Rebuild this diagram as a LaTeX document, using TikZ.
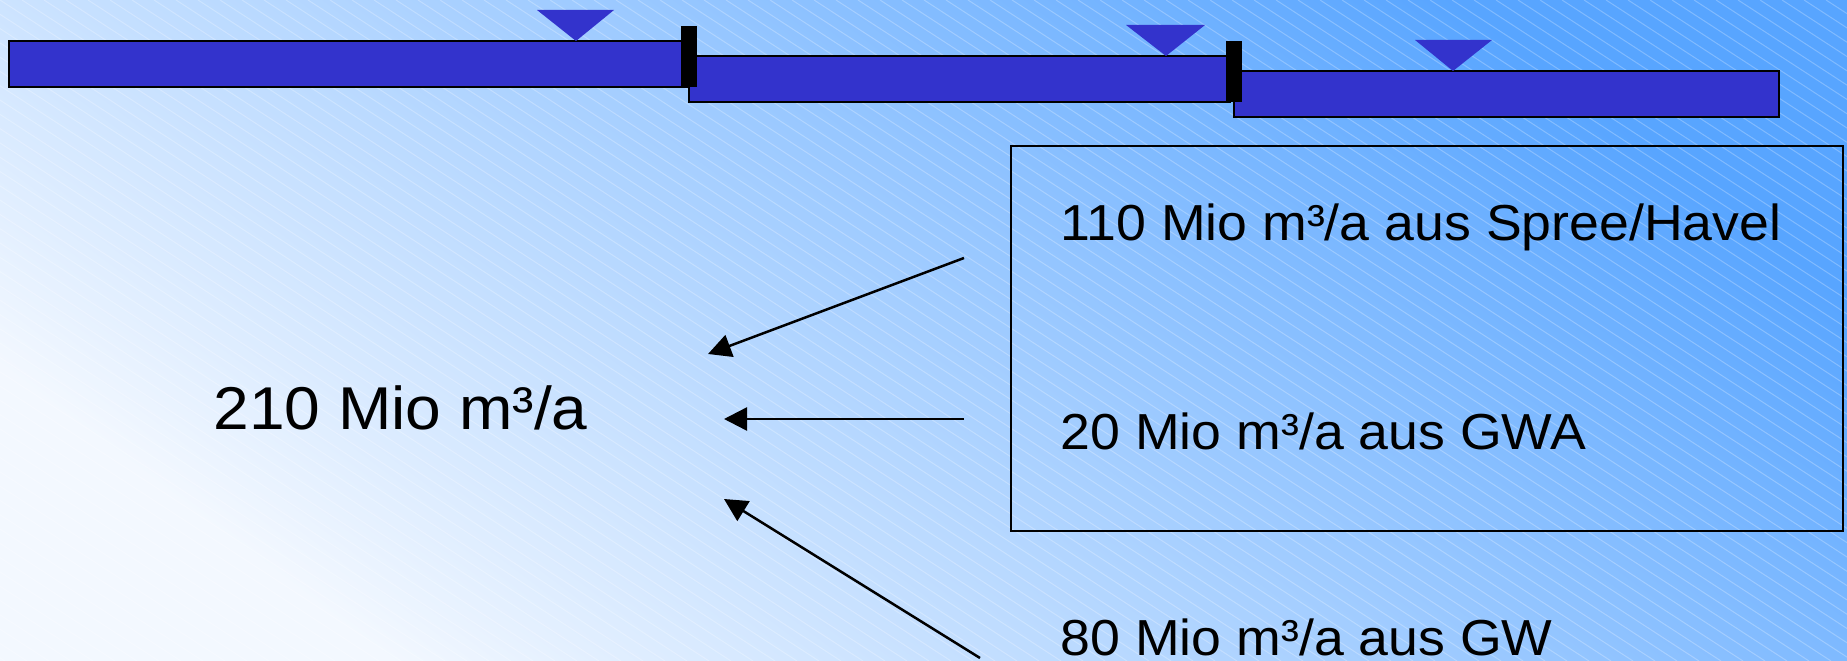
\documentclass[tikz,border=0pt]{standalone}
\usepackage{fontspec}
\setmainfont{Liberation Sans}
\newfontfamily\labelfont[FakeStretch=1.06]{Liberation Sans}
\usetikzlibrary{arrows.meta}
\definecolor{barblue}{RGB}{51,51,204}
\definecolor{bglight}{RGB}{243,248,255}
\definecolor{bgdark}{RGB}{88,165,255}
\tikzset{
	bar/.style = {draw = black, line width = 0.15mm, fill = barblue},
	plug/.style = {fill = black},
	level/.style = {fill = barblue},
	flow/.style = {line width = 0.25mm, -{Triangle[length = 2.3mm, width = 2.3mm]}},
	srctext/.style = {anchor = base west, inner sep = 0pt, font = \labelfont\fontsize{14.4pt}{17pt}\selectfont},
	sumtext/.style = {anchor = base west, inner sep = 0pt, font = \labelfont\fontsize{17.2pt}{20pt}\selectfont}
}
\begin{document}
\begin{tikzpicture}[x = 0.1mm, y = -0.1mm]
	\useasboundingbox (0, 0) rectangle (1847, 661);
	\shade[top color = bgdark, bottom color = bglight, shading angle = -37] (0, 0) rectangle (1847, 661);
	\begin{scope}
		\clip (0, 0) rectangle (1847, 661);
		\foreach \k in {-50, ..., 85}
			\draw[white, opacity = 0.25, line width = 0.1mm] (22*\k, 0) -- ++(1017, 661);
	\end{scope}
	\draw[bar] (9, 41) rectangle (688, 87);
	\draw[bar] (689, 56) rectangle (1230, 102);
	\draw[bar] (1234, 71) rectangle (1779, 117);
	\fill[plug] (681, 26) rectangle (697, 87);
	\fill[plug] (1226, 41) rectangle (1242, 102);
	\fill[level] (537, 10) -- (614, 10) -- (576, 41) -- cycle;
	\fill[level] (1126, 25) -- (1205, 25) -- (1166, 56) -- cycle;
	\fill[level] (1415, 40) -- (1492, 40) -- (1453, 71) -- cycle;
	\draw[line width = 0.2mm] (1011, 146) rectangle (1843, 531);
	\node[sumtext] (sum) at (213, 429) {210 Mio m³/a};
	\node[srctext] (spree) at (1060, 241) {110 Mio m³/a aus Spree/Havel};
	\node[srctext] (gwa) at (1060, 449) {20 Mio m³/a aus GWA};
	\node[srctext] (gw) at (1060, 655) {80 Mio m³/a aus GW};
	\coordinate (s1) at (964, 258);
	\coordinate (t1) at (708, 354);
	\coordinate (s2) at (964, 419);
	\coordinate (t2) at (724, 419);
	\coordinate (s3) at (980, 658);
	\coordinate (t3) at (724, 499);
	\draw[flow] (s1) -- (t1);
	\draw[flow] (s2) -- (t2);
	\draw[flow] (s3) -- (t3);
\end{tikzpicture}
\end{document}
